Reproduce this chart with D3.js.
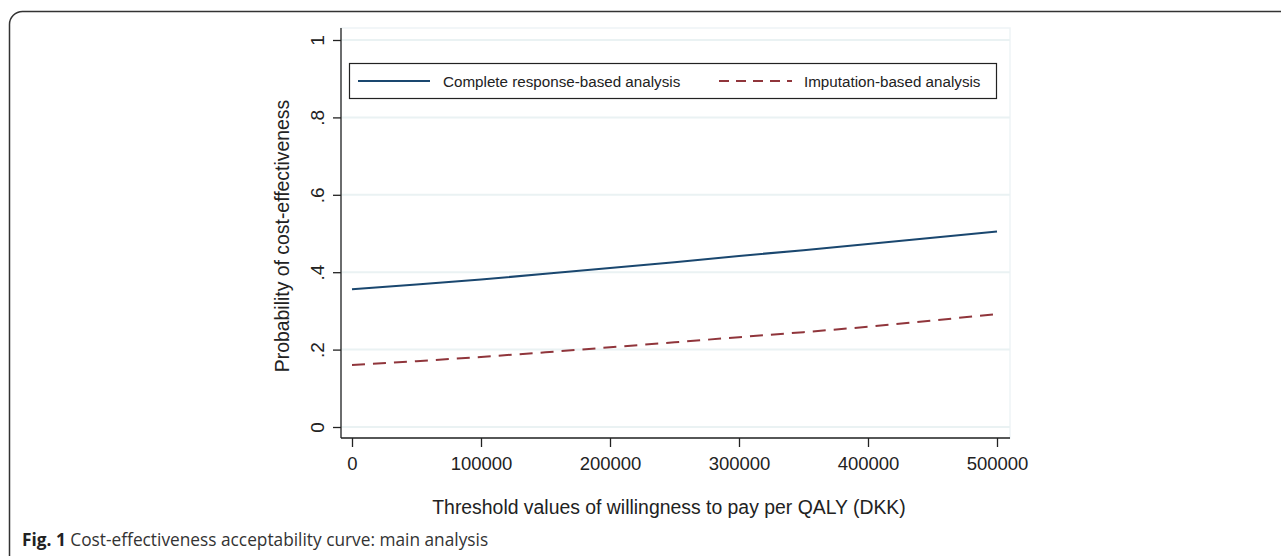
<!DOCTYPE html>
<html>
<head>
<meta charset="utf-8">
<script src="https://cdn.jsdelivr.net/npm/d3@7"></script>
<style>
  body { margin: 0; background: #fff; }
  svg { display: block; }
  text { font-family: "Liberation Sans", Arial, sans-serif; fill: #222; }
</style>
</head>
<body>
<script>
var svgWidth = 1281;
var svgHeight = 556;

// Data
var wtp = [0, 50000, 100000, 150000, 200000, 250000, 300000, 350000, 400000, 450000, 500000];
var completeResponse = [0.356, 0.368, 0.381, 0.396, 0.411, 0.426, 0.442, 0.457, 0.473, 0.489, 0.505];
var imputation = [0.160, 0.170, 0.181, 0.193, 0.206, 0.219, 0.232, 0.245, 0.259, 0.275, 0.292];
var xTicks = [0, 100000, 200000, 300000, 400000, 500000];
var yTicks = [0, 0.2, 0.4, 0.6, 0.8, 1];
var seriesNames = ["Complete response-based analysis", "Imputation-based analysis"];

var svg = d3.select("body")
  .append("svg")
  .attr("width", svgWidth)
  .attr("height", svgHeight);

// outer figure frame (runs off the right/bottom edge)
svg.append("rect")
  .attr("x", 9.5)
  .attr("y", 11.5)
  .attr("width", 1300)
  .attr("height", 600)
  .attr("rx", 13)
  .attr("fill", "none")
  .attr("stroke", "#333")
  .attr("stroke-width", 1.5);

// plot region
var plot = { left: 341, right: 1010, top: 28, bottom: 438 };

var x = d3.scaleLinear().domain([0, 500000]).range([352, 997]);
var y = d3.scaleLinear().domain([0, 1]).range([427, 40]);

// plot region outline (faint)
svg.append("rect")
  .attr("x", plot.left)
  .attr("y", plot.top)
  .attr("width", plot.right - plot.left)
  .attr("height", plot.bottom - plot.top)
  .attr("fill", "none")
  .attr("stroke", "#eef4f6")
  .attr("stroke-width", 1.5);

// gridlines
svg.append("g")
  .selectAll("line")
  .data(yTicks)
  .enter()
  .append("line")
  .attr("x1", plot.left)
  .attr("x2", plot.right)
  .attr("y1", d => y(d))
  .attr("y2", d => y(d))
  .attr("stroke", "#eaf2f3")
  .attr("stroke-width", 2);

// y axis
var yAxis = svg.append("g")
  .attr("transform", `translate(${plot.left}, 0)`)
  .call(d3.axisLeft(y)
    .tickValues(yTicks)
    .tickSize(8)
    .tickSizeOuter(0)
    .tickFormat(d => d === 0 || d === 1 ? String(d) : d3.format(".1f")(d).replace(/^0/, "")));

yAxis.select(".domain")
  .attr("d", `M0,${plot.top}V${plot.bottom}`)
  .attr("stroke", "#222")
  .attr("stroke-width", 1.3);
yAxis.selectAll(".tick line").attr("stroke", "#222").attr("stroke-width", 1.3);
yAxis.selectAll(".tick text")
  .attr("x", null)
  .attr("dy", null)
  .attr("transform", "translate(-17,0) rotate(-90)")
  .attr("text-anchor", "middle")
  .style("font-size", "19px")
  .style("font-family", "'Liberation Sans', Arial, sans-serif")
  .attr("fill", "#222");

// x axis
var xAxis = svg.append("g")
  .attr("transform", `translate(0, ${plot.bottom})`)
  .call(d3.axisBottom(x)
    .tickValues(xTicks)
    .tickSize(9)
    .tickSizeOuter(0)
    .tickFormat(d3.format("d")));

xAxis.select(".domain")
  .attr("d", `M${plot.left},0H${plot.right}`)
  .attr("stroke", "#222")
  .attr("stroke-width", 1.3);
xAxis.selectAll(".tick line").attr("stroke", "#222").attr("stroke-width", 1.3);
xAxis.selectAll(".tick text")
  .attr("y", 32)
  .attr("dy", null)
  .style("font-size", "18.5px")
  .style("font-family", "'Liberation Sans', Arial, sans-serif")
  .attr("fill", "#222");

// lines
var line = d3.line()
  .x((d, i) => x(wtp[i]))
  .y(d => y(d));

svg.append("path")
  .datum(completeResponse)
  .attr("d", line)
  .attr("fill", "none")
  .attr("stroke", "#1a476f")
  .attr("stroke-width", 2);

svg.append("path")
  .datum(imputation)
  .attr("d", line)
  .attr("fill", "none")
  .attr("stroke", "#90353b")
  .attr("stroke-width", 2)
  .attr("stroke-dasharray", "13,8");

// legend
var legend = svg.append("g");
legend.append("rect")
  .attr("x", 349.5)
  .attr("y", 63.5)
  .attr("width", 647)
  .attr("height", 35)
  .attr("fill", "#fff")
  .attr("stroke", "#222")
  .attr("stroke-width", 1.2);

legend.append("line")
  .attr("x1", 358).attr("x2", 430)
  .attr("y1", 81).attr("y2", 81)
  .attr("stroke", "#1a476f")
  .attr("stroke-width", 2);
legend.append("text")
  .attr("x", 443).attr("y", 87)
  .style("font-size", "15.2px")
  .text(seriesNames[0]);

legend.append("line")
  .attr("x1", 719).attr("x2", 792)
  .attr("y1", 81).attr("y2", 81)
  .attr("stroke", "#90353b")
  .attr("stroke-width", 2)
  .attr("stroke-dasharray", "10,7");
legend.append("text")
  .attr("x", 804).attr("y", 87)
  .style("font-size", "15.2px")
  .text(seriesNames[1]);

// axis titles
svg.append("text")
  .attr("transform", "translate(289, 236) rotate(-90)")
  .attr("text-anchor", "middle")
  .style("font-size", "19.4px")
  .text("Probability of cost-effectiveness");

svg.append("text")
  .attr("x", 669)
  .attr("y", 514)
  .attr("text-anchor", "middle")
  .style("font-size", "19.4px")
  .text("Threshold values of willingness to pay per QALY (DKK)");

// caption
var caption = svg.append("text")
  .attr("x", 22)
  .attr("y", 546)
  .style("font-size", "17.3px")
  .style("font-family", "'Open Sans', 'Noto Sans', sans-serif");
caption.append("tspan")
  .style("font-weight", "bold")
  .attr("fill", "#222")
  .text("Fig. 1");
caption.append("tspan")
  .attr("fill", "#333")
  .text(" Cost-effectiveness acceptability curve: main analysis");
</script>
</body>
</html>
